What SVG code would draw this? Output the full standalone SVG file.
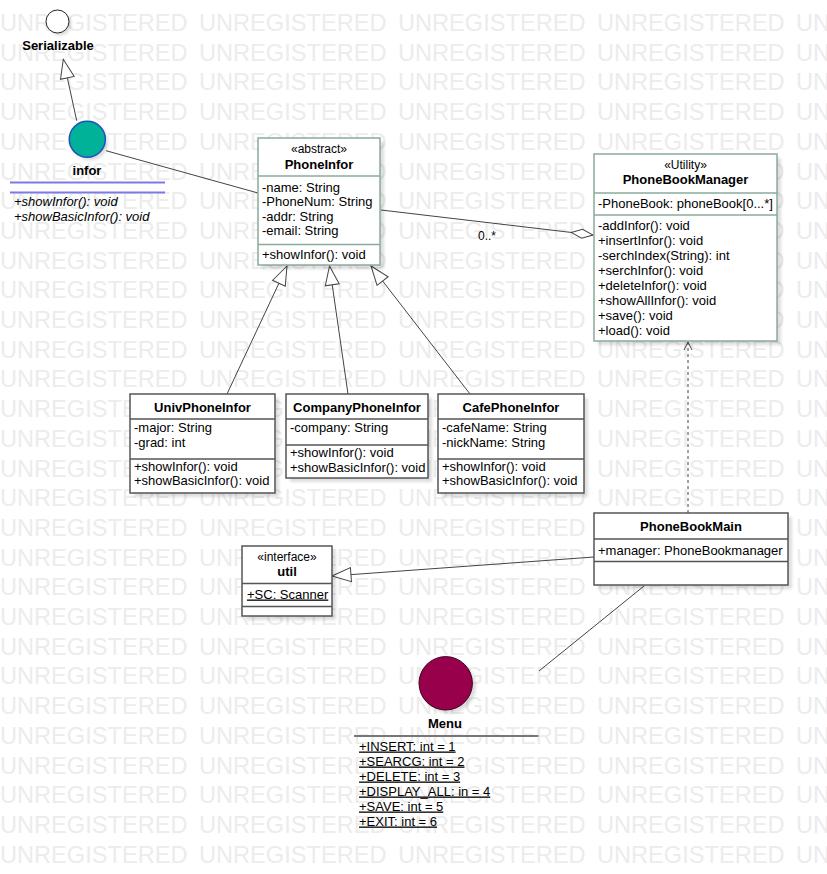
<svg xmlns="http://www.w3.org/2000/svg" xmlns:xlink="http://www.w3.org/1999/xlink" width="827" height="874" viewBox="0 0 827 874">
  <style>
    text { font-family: "Liberation Sans", Arial, sans-serif; font-size: 13px; fill: #000; }
    .wm { font-size: 23.6px; fill: #ececec; }
    .title { font-weight: bold; text-anchor: middle; }
    .stereo { font-size: 12px; text-anchor: middle; }
    .ul { text-decoration: underline; }
    .it { font-style: italic; }
    .box { fill: #fff; stroke: #555; stroke-width: 1.5; }
    .gbox { fill: #fff; stroke: #8aab9b; stroke-width: 1.5; }
    .div { stroke: #555; stroke-width: 1.5; }
    .gdiv { stroke: #8aab9b; stroke-width: 1.5; }
    .shadow { fill: #000; opacity: 0.13; filter: url(#soft); }
    .conn { fill: none; stroke: #444; stroke-width: 1; }
  </style>
  <defs>
    <filter id="soft" x="-10%" y="-10%" width="120%" height="120%">
      <feGaussianBlur stdDeviation="1.5"/>
    </filter>
    <marker id="gen" markerUnits="userSpaceOnUse" markerWidth="21" markerHeight="16" viewBox="0 0 21 16" refX="20" refY="8" orient="auto">
      <path d="M20,8 L1,1 L1,15 Z" fill="#fff" stroke="#444" stroke-width="1"/>
    </marker>
    <marker id="agg" markerUnits="userSpaceOnUse" markerWidth="24" markerHeight="11" viewBox="0 0 24 11" refX="23" refY="5.5" orient="auto">
      <path d="M1,5.5 L12,1 L23,5.5 L12,10 Z" fill="#fff" stroke="#444" stroke-width="1"/>
    </marker>
    <marker id="open" markerUnits="userSpaceOnUse" markerWidth="10" markerHeight="10" viewBox="0 0 10 10" refX="9" refY="5" orient="auto">
      <path d="M1,1 L9,5 L1,9" fill="none" stroke="#444" stroke-width="1"/>
    </marker>
    <g id="wmrow">
      <text class="wm" x="0">UNREGISTERED</text>
      <text class="wm" x="199">UNREGISTERED</text>
      <text class="wm" x="398">UNREGISTERED</text>
      <text class="wm" x="597">UNREGISTERED</text>
      <text class="wm" x="796">UNREGISTERED</text>
    </g>
  </defs>

  <rect width="827" height="874" fill="#fff"/>

  <!-- watermark rows -->
  <g id="watermark">
    <use xlink:href="#wmrow" y="31"/>
    <use xlink:href="#wmrow" y="60.7"/>
    <use xlink:href="#wmrow" y="90.4"/>
    <use xlink:href="#wmrow" y="120.1"/>
    <use xlink:href="#wmrow" y="149.8"/>
    <use xlink:href="#wmrow" y="179.5"/>
    <use xlink:href="#wmrow" y="209.2"/>
    <use xlink:href="#wmrow" y="238.9"/>
    <use xlink:href="#wmrow" y="268.6"/>
    <use xlink:href="#wmrow" y="298.3"/>
    <use xlink:href="#wmrow" y="328"/>
    <use xlink:href="#wmrow" y="357.7"/>
    <use xlink:href="#wmrow" y="387.4"/>
    <use xlink:href="#wmrow" y="417.1"/>
    <use xlink:href="#wmrow" y="446.8"/>
    <use xlink:href="#wmrow" y="476.5"/>
    <use xlink:href="#wmrow" y="506.2"/>
    <use xlink:href="#wmrow" y="535.9"/>
    <use xlink:href="#wmrow" y="565.6"/>
    <use xlink:href="#wmrow" y="595.3"/>
    <use xlink:href="#wmrow" y="625"/>
    <use xlink:href="#wmrow" y="654.7"/>
    <use xlink:href="#wmrow" y="684.4"/>
    <use xlink:href="#wmrow" y="714.1"/>
    <use xlink:href="#wmrow" y="743.8"/>
    <use xlink:href="#wmrow" y="773.5"/>
    <use xlink:href="#wmrow" y="803.2"/>
    <use xlink:href="#wmrow" y="832.9"/>
    <use xlink:href="#wmrow" y="862.6"/>
  </g>

  <!-- connectors -->
  <g id="connectors">
    <line class="conn" x1="76.7" y1="120.7" x2="63.3" y2="59.3" marker-end="url(#gen)"/>
    <line class="conn" x1="106" y1="150.7" x2="258" y2="193"/>
    <line class="conn" x1="227" y1="394" x2="287" y2="266" marker-end="url(#gen)"/>
    <line class="conn" x1="348" y1="394" x2="329.5" y2="266" marker-end="url(#gen)"/>
    <line class="conn" x1="470" y1="394" x2="371" y2="266" marker-end="url(#gen)"/>
    <line class="conn" x1="381" y1="210" x2="593" y2="235" marker-end="url(#agg)"/>
    <text x="478" y="240" style="font-size:12px">0..*</text>
    <line class="conn" x1="688" y1="513" x2="688" y2="342" stroke-dasharray="3,3" marker-end="url(#open)"/>
    <line class="conn" x1="594" y1="557" x2="332" y2="576" marker-end="url(#gen)"/>
    <line class="conn" x1="644" y1="586" x2="539" y2="671"/>
  </g>

  <!-- Serializable interface (lollipop) -->
  <g id="serializable">
    <circle cx="60" cy="24" r="11.5" class="shadow"/>
    <circle cx="57.5" cy="21.5" r="11.5" fill="#fff" stroke="#222" stroke-width="1"/>
    <text class="title" x="58" y="50">Serializable</text>
  </g>

  <!-- infor interface -->
  <g id="infor">
    <circle cx="90" cy="142" r="18.3" class="shadow"/>
    <circle cx="87.3" cy="139.3" r="18" fill="#00b398" stroke="#1f4fbf" stroke-width="1.5"/>
    <text class="title" x="87" y="175">infor</text>
    <line x1="10" y1="182.5" x2="165" y2="182.5" stroke="#7b7be6" stroke-width="2"/>
    <line x1="10" y1="192.5" x2="165" y2="192.5" stroke="#7b7be6" stroke-width="2"/>
    <text class="it" x="14" y="206">+showInfor(): void</text>
    <text class="it" x="14" y="221">+showBasicInfor(): void</text>
  </g>

  <!-- PhoneInfor -->
  <g id="PhoneInfor">
    <rect x="262" y="142" width="122" height="127" class="shadow"/>
    <rect x="258" y="138" width="122" height="127" class="gbox"/>
    <text class="stereo" x="319" y="153">«abstract»</text>
    <text class="title" x="319" y="168.5">PhoneInfor</text>
    <line x1="258" y1="176" x2="380" y2="176" class="gdiv"/>
    <text x="262" y="191.5">-name: String</text>
    <text x="262" y="206">-PhoneNum: String</text>
    <text x="262" y="220.5">-addr: String</text>
    <text x="262" y="235">-email: String</text>
    <line x1="258" y1="244.5" x2="380" y2="244.5" class="gdiv"/>
    <text x="262" y="258.5">+showInfor(): void</text>
  </g>

  <!-- PhoneBookManager -->
  <g id="PhoneBookManager">
    <rect x="598" y="158" width="183" height="187" class="shadow"/>
    <rect x="594" y="154" width="183" height="187" class="gbox"/>
    <text class="stereo" x="685.5" y="169">«Utility»</text>
    <text class="title" x="685.5" y="184">PhoneBookManager</text>
    <line x1="594" y1="193" x2="777" y2="193" class="gdiv"/>
    <text x="598" y="208">-PhoneBook: phoneBook[0...*]</text>
    <line x1="594" y1="215" x2="777" y2="215" class="gdiv"/>
    <text x="598" y="229.5">-addInfor(): void</text>
    <text x="598" y="244.5">+insertInfor(): void</text>
    <text x="598" y="259.5">-serchIndex(String): int</text>
    <text x="598" y="274.5">+serchInfor(): void</text>
    <text x="598" y="289.5">+deleteInfor(): void</text>
    <text x="598" y="304.5">+showAllInfor(): void</text>
    <text x="598" y="319.5">+save(): void</text>
    <text x="598" y="334.5">+load(): void</text>
  </g>

  <!-- UnivPhoneInfor -->
  <g id="UnivPhoneInfor">
    <rect x="134" y="398" width="145" height="99" class="shadow"/>
    <rect x="130" y="394" width="145" height="99" class="box"/>
    <text class="title" x="202.5" y="412">UnivPhoneInfor</text>
    <line x1="130" y1="419" x2="275" y2="419" class="div"/>
    <text x="134" y="432">-major: String</text>
    <text x="134" y="447">-grad: int</text>
    <line x1="130" y1="459" x2="275" y2="459" class="div"/>
    <text x="134" y="470.5">+showInfor(): void</text>
    <text x="134" y="485">+showBasicInfor(): void</text>
  </g>

  <!-- CompanyPhoneInfor -->
  <g id="CompanyPhoneInfor">
    <rect x="290" y="398" width="142" height="84" class="shadow"/>
    <rect x="286" y="394" width="142" height="84" class="box"/>
    <text class="title" x="357" y="412">CompanyPhoneInfor</text>
    <line x1="286" y1="419" x2="428" y2="419" class="div"/>
    <text x="290" y="432">-company: String</text>
    <line x1="286" y1="445" x2="428" y2="445" class="div"/>
    <text x="290" y="457">+showInfor(): void</text>
    <text x="290" y="471.5">+showBasicInfor(): void</text>
  </g>

  <!-- CafePhoneInfor -->
  <g id="CafePhoneInfor">
    <rect x="442" y="398" width="146" height="99" class="shadow"/>
    <rect x="438" y="394" width="146" height="99" class="box"/>
    <text class="title" x="511" y="412">CafePhoneInfor</text>
    <line x1="438" y1="419" x2="584" y2="419" class="div"/>
    <text x="442" y="432">-cafeName: String</text>
    <text x="442" y="447">-nickName: String</text>
    <line x1="438" y1="459" x2="584" y2="459" class="div"/>
    <text x="442" y="470.5">+showInfor(): void</text>
    <text x="442" y="485">+showBasicInfor(): void</text>
  </g>

  <!-- PhoneBookMain -->
  <g id="PhoneBookMain">
    <rect x="598" y="517" width="194" height="72" class="shadow"/>
    <rect x="594" y="513" width="194" height="72" class="box"/>
    <text class="title" x="691" y="530.5">PhoneBookMain</text>
    <line x1="594" y1="539" x2="788" y2="539" class="div"/>
    <text x="598" y="554.5">+manager: PhoneBookmanager</text>
    <line x1="594" y1="561.5" x2="788" y2="561.5" class="div"/>
  </g>

  <!-- util -->
  <g id="util">
    <rect x="246" y="550" width="90" height="70" class="shadow"/>
    <rect x="242" y="546" width="90" height="70" class="box"/>
    <text class="stereo" x="287" y="561">«interface»</text>
    <text class="title" x="287" y="575.5">util</text>
    <line x1="242" y1="583.5" x2="332" y2="583.5" class="div"/>
    <text class="ul" x="247" y="598.5">+SC: Scanner</text>
    <line x1="242" y1="606.5" x2="332" y2="606.5" class="div"/>
  </g>

  <!-- Menu -->
  <g id="Menu">
    <circle cx="449" cy="686.5" r="27" class="shadow"/>
    <circle cx="445.7" cy="683.3" r="26.7" fill="#99004c" stroke="#3a0020" stroke-width="1"/>
    <text class="title" x="445" y="727.5">Menu</text>
    <line x1="354" y1="736" x2="538.5" y2="736" stroke="#777" stroke-width="2"/>
    <text class="ul" x="359" y="750.5">+INSERT: int = 1</text>
    <text class="ul" x="359" y="765.5">+SEARCG: int = 2</text>
    <text class="ul" x="359" y="780.5">+DELETE: int = 3</text>
    <text class="ul" x="359" y="795.5">+DISPLAY_ALL: in = 4</text>
    <text class="ul" x="359" y="810.5">+SAVE: int = 5</text>
    <text class="ul" x="359" y="825.5">+EXIT: int = 6</text>
  </g>
</svg>
